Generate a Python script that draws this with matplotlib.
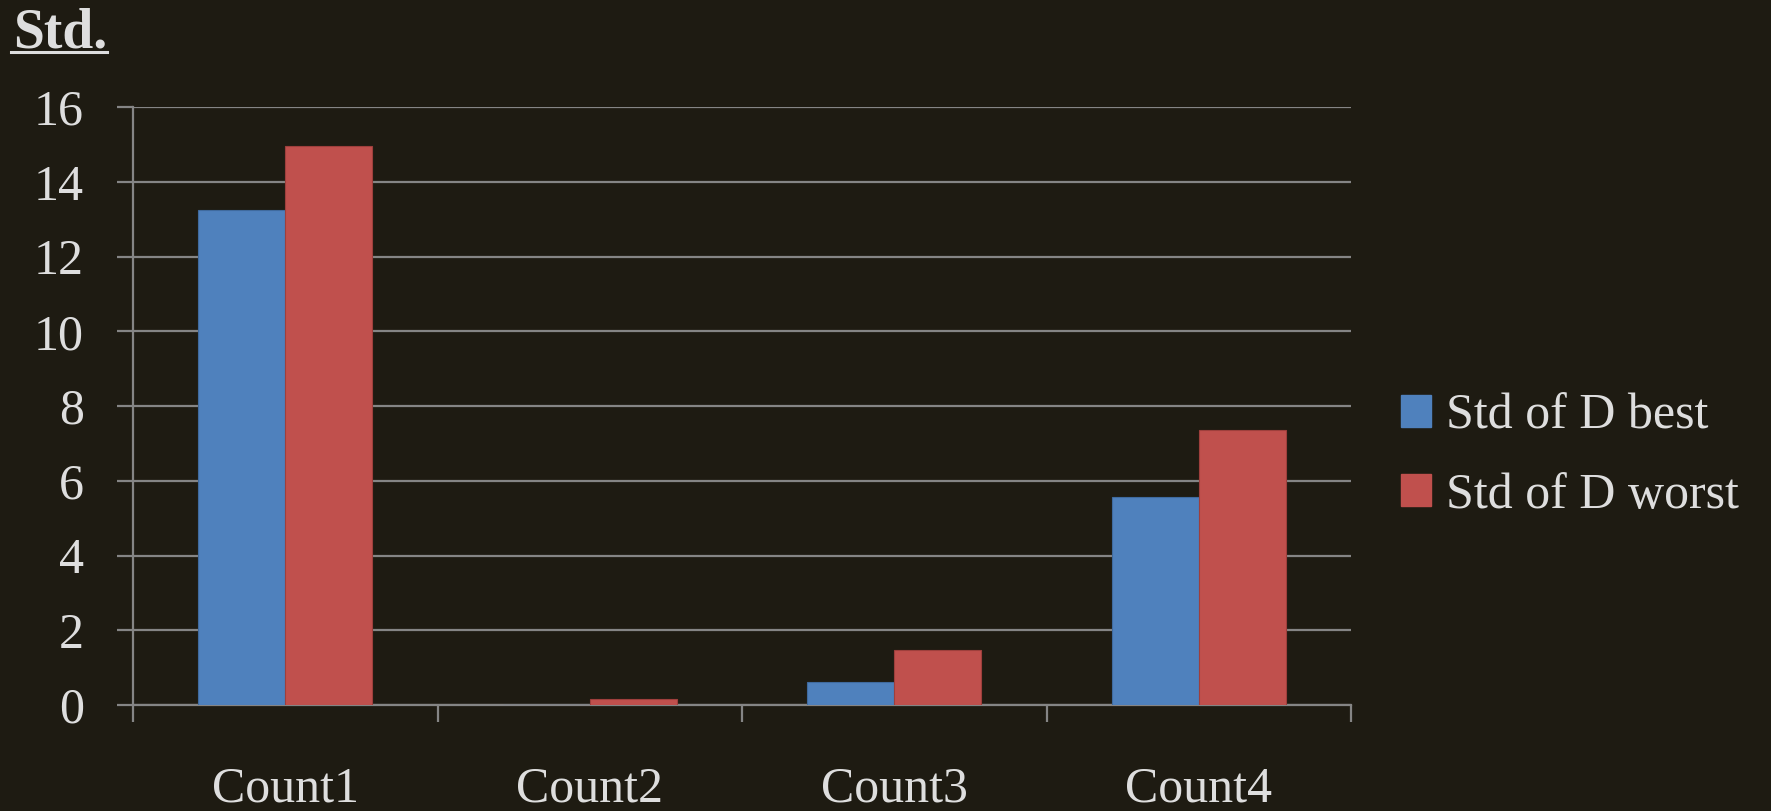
import matplotlib
matplotlib.use("Agg")
import matplotlib.pyplot as plt
from matplotlib.lines import Line2D
from matplotlib.patches import Patch
import numpy as np

categories = ["Count1", "Count2", "Count3", "Count4"]
std_best = [13.24, 0.0, 0.61, 5.57]
std_worst = [14.95, 0.15, 1.47, 7.37]
series_labels = ["Std of D best", "Std of D worst"]
y_ticks = [0, 2, 4, 6, 8, 10, 12, 14, 16]

BG = "#1E1B12"
TXT = "#DEDEDE"
GRID = "#858585"
BLUE = "#4F81BD"
RED = "#C0504D"
FONT = "Liberation Serif"

plt.rcParams["font.family"] = [FONT, "DejaVu Serif"]

fig = plt.figure(figsize=(17.71, 8.11), dpi=100, facecolor=BG)
ax = fig.add_axes([133 / 1771, 106 / 811, (1351 - 133) / 1771, (705 - 107) / 811])
ax.set_facecolor(BG)

x = np.arange(len(categories))
w = 1 / 3.5
ax.bar(x - w / 2, std_best, width=w, color=BLUE, edgecolor="#3F6A9E", linewidth=0.8, zorder=3)
ax.bar(x + w / 2, std_worst, width=w, color=RED, edgecolor="#9E3F3C", linewidth=0.8, zorder=3)

ax.set_xlim(-0.5, len(categories) - 0.5)
ax.set_ylim(0, 16)
ax.set_yticks(y_ticks)
ax.set_yticklabels([str(v) for v in y_ticks])
ax.yaxis.grid(True, color=GRID, linewidth=1.6, zorder=0)
ax.tick_params(axis="y", direction="out", length=11.5, width=1.6, color=GRID,
               labelsize=36, labelcolor=TXT, pad=24)

# category boundaries carry the tick marks, centers carry the labels
ax.set_xticks(np.arange(len(categories) + 1) - 0.5)
ax.set_xticklabels([])
ax.set_xticks(x, minor=True)
ax.set_xticklabels(categories, minor=True)
ax.tick_params(axis="x", which="major", direction="out", length=12, width=1.6, color=GRID)
ax.tick_params(axis="x", which="minor", length=0, labelsize=36, labelcolor=TXT, pad=44)

for side in ("top", "right"):
    ax.spines[side].set_visible(False)
for side in ("left", "bottom"):
    ax.spines[side].set_color(GRID)
    ax.spines[side].set_linewidth(1.6)

handles = [Patch(facecolor=BLUE, edgecolor=BLUE), Patch(facecolor=RED, edgecolor=RED)]
leg = fig.legend(handles, series_labels, loc="center left",
                 bbox_to_anchor=(1356 / 1771, 1 - 456 / 811), frameon=False,
                 fontsize=36, handlelength=0.6, handleheight=0.6,
                 handletextpad=0.3, labelspacing=0.65, labelcolor=TXT)

title = fig.text(13 / 1771, 1 - 47 / 811, "Std.", fontsize=40, fontweight="bold",
                 color=TXT, ha="left", va="baseline")
fig.canvas.draw()
bb = title.get_window_extent()
uy = (811 - 52) / 811
fig.add_artist(Line2D([bb.x0 / 1771 - 0.001, bb.x1 / 1771], [uy, uy],
                      transform=fig.transFigure, color=TXT, linewidth=2.2))

fig.savefig("out.png", dpi=100, facecolor=BG)
